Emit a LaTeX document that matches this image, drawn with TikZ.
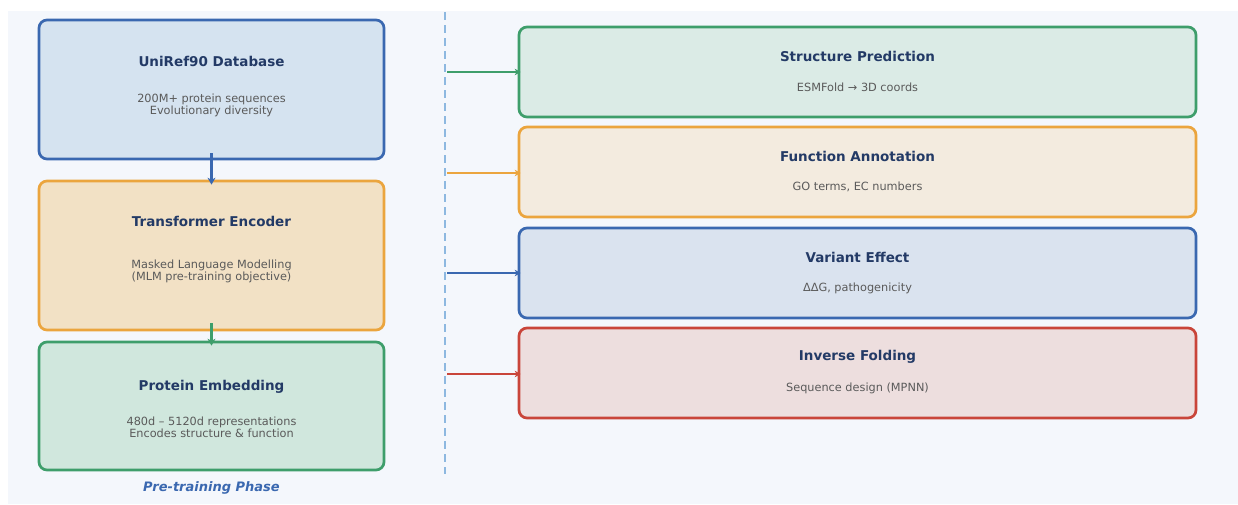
\documentclass[tikz,border=0pt]{standalone}
\usepackage{fontspec}
\setmainfont{DejaVu Sans}
\usetikzlibrary{arrows.meta}
\definecolor{panelbg}{HTML}{F4F7FC}
\definecolor{bluebd}{HTML}{3A68B0}
\definecolor{bluefl}{HTML}{D5E3F0}
\definecolor{bluefr}{HTML}{DAE3EF}
\definecolor{orgbd}{HTML}{EBA53E}
\definecolor{orgfl}{HTML}{F2E1C5}
\definecolor{orgfr}{HTML}{F3EBDF}
\definecolor{grnbd}{HTML}{3E9E6B}
\definecolor{grnfl}{HTML}{D0E7DD}
\definecolor{grnfr}{HTML}{DBEBE6}
\definecolor{redbd}{HTML}{C9453A}
\definecolor{redfr}{HTML}{EDDEDE}
\definecolor{titlec}{HTML}{233A66}
\definecolor{subc}{HTML}{5A5A5A}
\definecolor{dashc}{HTML}{8DB8E0}
\tikzset{
  card/.style={draw, line width=2.7pt, rounded corners=8pt, inner sep=0pt},
  ttl/.style={font=\fontsize{13.5}{15}\selectfont\bfseries, text=titlec, inner sep=0pt},
  sub/.style={font=\fontsize{11.3}{12}\selectfont, text=subc, align=center, inner sep=0pt},
  flow/.style={line width=2.8pt, -{Stealth[length=7pt,width=8pt]}},
  feed/.style={line width=2.2pt, -{Stealth[length=6pt,width=6.5pt]}}
}
\begin{document}
\begin{tikzpicture}[x=1pt,y=-1pt]
\useasboundingbox (0,0) rectangle (1238,504);
\fill[white] (0,0) rectangle (1238,504);
\fill[panelbg] (8,11) rectangle (1238,504);

% pre-training column
\node[card, draw=bluebd, fill=bluefl, minimum width=345pt, minimum height=139pt] (b1) at (211.5,89.5) {};
\node[card, draw=orgbd, fill=orgfl, minimum width=345pt, minimum height=149pt] (b2) at (211.5,255.5) {};
\node[card, draw=grnbd, fill=grnfl, minimum width=345pt, minimum height=128pt] (b3) at (211.5,406) {};

\node[ttl] (t1) at (211.5,61) {UniRef90 Database};
\node[sub] (s1) at (211.5,105) {200M+ protein sequences\\Evolutionary diversity};
\node[ttl] (t2) at (211.5,221) {Transformer Encoder};
\node[sub] (s2) at (211.5,271) {Masked Language Modelling\\(MLM pre-training objective)};
\node[ttl] (t3) at (211.5,387) {Protein Embedding};
\node[sub] (s3) at (211.5,427) {480d – 5120d representations\\Encodes structure \& function};

\draw[flow, bluebd] ([yshift=7pt]b1.south) -- ([yshift=-5pt]b2.north);
\draw[flow, grnbd] ([yshift=8pt]b2.south) -- ([yshift=-5pt]b3.north);

\node[font=\fontsize{13}{15}\selectfont\bfseries\itshape, text=bluebd] (phase) at (211.5,488) {Pre-training Phase};

% separator
\coordinate (sepTop) at (445,12);
\coordinate (sepBot) at (445,474);
\draw[dashc, line width=1.8pt, dash pattern=on 8pt off 5pt] (sepTop) -- (sepBot);

% downstream tasks
\node[card, draw=grnbd, fill=grnfr, minimum width=677pt, minimum height=90pt] (r1) at (857.5,72) {};
\node[card, draw=orgbd, fill=orgfr, minimum width=677pt, minimum height=90pt] (r2) at (857.5,172) {};
\node[card, draw=bluebd, fill=bluefr, minimum width=677pt, minimum height=90pt] (r3) at (857.5,273) {};
\node[card, draw=redbd, fill=redfr, minimum width=677pt, minimum height=90pt] (r4) at (857.5,373) {};

\node[ttl] (rt1) at (857.5,56) {Structure Prediction};
\node[sub] (rs1) at (857.5,87) {ESMFold → 3D coords};
\node[ttl] (rt2) at (857.5,156) {Function Annotation};
\node[sub] (rs2) at (857.5,187) {GO terms, EC numbers};
\node[ttl] (rt3) at (857.5,257) {Variant Effect};
\node[sub] (rs3) at (857.5,288) {ΔΔG, pathogenicity};
\node[ttl] (rt4) at (857.5,357) {Inverse Folding};
\node[sub] (rs4) at (857.5,388) {Sequence design (MPNN)};

\coordinate (d1) at (447,72);
\coordinate (d2) at (447,173);
\coordinate (d3) at (447,273);
\coordinate (d4) at (447,374);
\draw[feed, grnbd] (d1) -- ([xshift=3pt]r1.west |- d1);
\draw[feed, orgbd] (d2) -- ([xshift=3pt]r2.west |- d2);
\draw[feed, bluebd] (d3) -- ([xshift=3pt]r3.west |- d3);
\draw[feed, redbd] (d4) -- ([xshift=3pt]r4.west |- d4);
\end{tikzpicture}
\end{document}
